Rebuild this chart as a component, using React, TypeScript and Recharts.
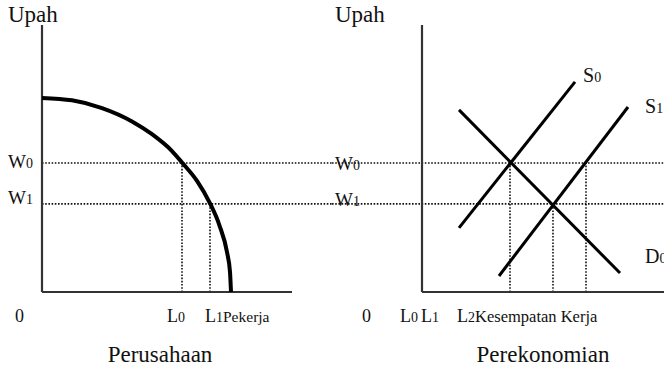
import React from "react";
import { ComposedChart, Line, XAxis, YAxis, ReferenceLine, Label } from "recharts";

// ---------- shared wage scale ----------
const wageDomain = [0, 100];
const wageTop = 100;
const wageW0 = 48.3;
const wageW1 = 33.0;

// ---------- left panel: Perusahaan ----------
const firmDomain = [0, 58];
const firmAxisEnd = 50;
const firmCurve = [
  { x: 0, y: 72.7 },
  { x: 6, y: 71.8 },
  { x: 12, y: 68.9 },
  { x: 18, y: 63.9 },
  { x: 22, y: 59.1 },
  { x: 26, y: 52.8 },
  { x: 28, y: 48.5 },
  { x: 31, y: 41.6 },
  { x: 33.6, y: 33.2 },
  { x: 35.5, y: 24.9 },
  { x: 37, y: 14.9 },
  { x: 37.6, y: 7.5 },
  { x: 37.8, y: 0 },
];
const firmL0 = 28;
const firmL1 = 33.6;
const firmXTicks = [0, firmL0, firmL1];
const firmXLabels = [
  { base: "0" },
  { base: "L", sub: "0" },
  { base: "L", sub: "1", tail: "Pekerja" },
];
const wageTicks = [wageW1, wageW0, wageTop];
const wageLabels = [
  { base: "W", sub: "1" },
  { base: "W", sub: "0" },
  { base: "Upah" },
];
const firmCaption = "Perusahaan";

// ---------- right panel: Perekonomian ----------
const ecoDomain = [0, 48.4];
const ecoL0 = 17.6;
const ecoL1 = 26.2;
const ecoL2 = 32.8;
const supplyS0 = [
  { x: 7.4, y: 24.0 },
  { x: 30.6, y: 78.7 },
];
const supplyS1 = [
  { x: 15.4, y: 6.0 },
  { x: 41.2, y: 69.3 },
];
const demandD0 = [
  { x: 7.4, y: 68.2 },
  { x: 39.6, y: 7.1 },
];
const ecoXTicks = [0, ecoL0, ecoL1, ecoL2];
const ecoXLabels = [
  { base: "0" },
  { base: "L", sub: "0" },
  { base: "L", sub: "1" },
  { base: "L", sub: "2", tail: "Kesempatan Kerja" },
];
const seriesNames = [
  { base: "S", sub: "0" },
  { base: "S", sub: "1" },
  { base: "D", sub: "0" },
];
const ecoCaption = "Perekonomian";

// ---------- styles ----------
const FONT = "'Liberation Serif', 'Times New Roman', Times, serif";
const INK = "#111";
const AXIS = "#333";
const DOT = "1.6 1.6";

type Lbl = { base: string; sub?: string; tail?: string };

function Txt({ l, x, y, anchor = "start", base, sub, tail }: any) {
  return (
    <text x={x} y={y} textAnchor={anchor} fontFamily={FONT} fill={INK} fontSize={base}>
      <tspan>{l.base}</tspan>
      {l.sub ? <tspan fontSize={sub}>{l.sub}</tspan> : null}
      {l.tail ? <tspan fontSize={tail}>{l.tail}</tspan> : null}
    </text>
  );
}

const makeTick =
  (ticks: number[], labels: Lbl[], offs: number[][], sizes: any) => (props: any) => {
    const { x, y, payload } = props;
    const i = ticks.indexOf(payload.value);
    if (i < 0) return <g />;
    const l = labels[i];
    const big = l.base === "Upah";
    return (
      <Txt
        l={l}
        x={x + offs[i][0]}
        y={y + offs[i][1]}
        base={big ? 23 : sizes.base}
        sub={sizes.sub}
        tail={sizes.tail}
      />
    );
  };

const firmXTick = makeTick(firmXTicks, firmXLabels, [[-27, 30], [-15, 30], [-5, 30]], { base: 18, sub: 14, tail: 15.5 });
const ecoXTick = makeTick(ecoXTicks, ecoXLabels, [[-60, 30], [-110, 30], [-132, 30], [-129, 30]], { base: 18, sub: 14, tail: 16.5 });
const firmYTick = makeTick(wageTicks, wageLabels, [[-34, 0], [-34, 5], [-34, -3]], { base: 19, sub: 14 });
const ecoYTick = makeTick(wageTicks, wageLabels, [[-87, 2], [-87, 7], [-87, -3]], { base: 19, sub: 14 });

const endLabel = (n: number, l: Lbl, dx: number, dy: number) => (p: any) => {
  if (p.index !== n - 1) return <g />;
  return <Txt l={l} x={p.x + dx} y={p.y + dy} base={20} sub={14} />;
};

const caption = (text: string, dx: number) => (p: any) => {
  const vb = p.viewBox || { x: 0, y: 0, width: 0 };
  return (
    <text x={vb.x + dx} y={vb.y + 70} textAnchor="middle" fontFamily={FONT} fill={INK} fontSize={23}>
      {text}
    </text>
  );
};

const W = 332;
const H = 368;
const margin = { top: 25, right: 0, bottom: 0, left: 0 };

export default function App() {
  return (
    <div style={{ position: "absolute", left: 0, top: 0, width: 664, height: 368, display: "flex", background: "#fff" }}>
      <ComposedChart width={W} height={H} margin={margin}>
        <XAxis
          xAxisId="x"
          dataKey="x"
          type="number"
          domain={firmDomain}
          ticks={firmXTicks}
          axisLine={false}
          tickLine={false}
          tickSize={0}
          tickMargin={0}
          height={76}
          tick={firmXTick}
          interval={0}
        >
          <Label content={caption(firmCaption, 118)} />
        </XAxis>
        <YAxis
          yAxisId="y"
          type="number"
          domain={wageDomain}
          ticks={wageTicks}
          axisLine={false}
          tickLine={false}
          tickSize={0}
          tickMargin={0}
          width={42}
          tick={firmYTick}
          interval={0}
        />
        <ReferenceLine xAxisId="x" yAxisId="y" segment={[{ x: 0, y: wageW0 }, { x: firmDomain[1], y: wageW0 }]} stroke={INK} strokeWidth={1.6} strokeDasharray={DOT} ifOverflow="visible" />
        <ReferenceLine xAxisId="x" yAxisId="y" segment={[{ x: 0, y: wageW1 }, { x: firmDomain[1], y: wageW1 }]} stroke={INK} strokeWidth={1.6} strokeDasharray={DOT} ifOverflow="visible" />
        <ReferenceLine xAxisId="x" yAxisId="y" segment={[{ x: firmL0, y: 0 }, { x: firmL0, y: wageW0 }]} stroke={INK} strokeWidth={1.6} strokeDasharray={DOT} ifOverflow="visible" />
        <ReferenceLine xAxisId="x" yAxisId="y" segment={[{ x: firmL1, y: 0 }, { x: firmL1, y: wageW1 }]} stroke={INK} strokeWidth={1.6} strokeDasharray={DOT} ifOverflow="visible" />
        <ReferenceLine xAxisId="x" yAxisId="y" segment={[{ x: 0, y: 0 }, { x: 0, y: wageTop }]} stroke={AXIS} strokeWidth={2.2} ifOverflow="visible" />
        <ReferenceLine xAxisId="x" yAxisId="y" segment={[{ x: 0, y: 0 }, { x: firmAxisEnd, y: 0 }]} stroke={AXIS} strokeWidth={2.2} ifOverflow="visible" />
        <Line xAxisId="x" yAxisId="y" data={firmCurve} dataKey="y" type="monotone" stroke="#000" strokeWidth={4} dot={false} activeDot={false} isAnimationActive={false} />
      </ComposedChart>

      <ComposedChart width={W} height={H} margin={margin}>
        <XAxis
          xAxisId="x"
          dataKey="x"
          type="number"
          domain={ecoDomain}
          ticks={ecoXTicks}
          axisLine={false}
          tickLine={false}
          tickSize={0}
          tickMargin={0}
          height={76}
          tick={ecoXTick}
          interval={0}
        >
          <Label content={caption(ecoCaption, 121)} />
        </XAxis>
        <YAxis
          yAxisId="y"
          type="number"
          domain={wageDomain}
          ticks={wageTicks}
          axisLine={false}
          tickLine={false}
          tickSize={0}
          tickMargin={0}
          width={90}
          tick={ecoYTick}
          interval={0}
        />
        <ReferenceLine xAxisId="x" yAxisId="y" segment={[{ x: -18, y: wageW0 }, { x: ecoDomain[1], y: wageW0 }]} stroke={INK} strokeWidth={1.6} strokeDasharray={DOT} ifOverflow="visible" />
        <ReferenceLine xAxisId="x" yAxisId="y" segment={[{ x: -18, y: wageW1 }, { x: ecoDomain[1], y: wageW1 }]} stroke={INK} strokeWidth={1.6} strokeDasharray={DOT} ifOverflow="visible" />
        <ReferenceLine xAxisId="x" yAxisId="y" segment={[{ x: ecoL0, y: 0 }, { x: ecoL0, y: wageW0 }]} stroke={INK} strokeWidth={1.6} strokeDasharray={DOT} ifOverflow="visible" />
        <ReferenceLine xAxisId="x" yAxisId="y" segment={[{ x: ecoL1, y: 0 }, { x: ecoL1, y: wageW1 }]} stroke={INK} strokeWidth={1.6} strokeDasharray={DOT} ifOverflow="visible" />
        <ReferenceLine xAxisId="x" yAxisId="y" segment={[{ x: ecoL2, y: 0 }, { x: ecoL2, y: wageW0 }]} stroke={INK} strokeWidth={1.6} strokeDasharray={DOT} ifOverflow="visible" />
        <ReferenceLine xAxisId="x" yAxisId="y" segment={[{ x: 0, y: 0 }, { x: 0, y: wageTop }]} stroke={AXIS} strokeWidth={2.2} ifOverflow="visible" />
        <ReferenceLine xAxisId="x" yAxisId="y" segment={[{ x: 0, y: 0 }, { x: ecoDomain[1], y: 0 }]} stroke={AXIS} strokeWidth={2.2} ifOverflow="visible" />
        <Line xAxisId="x" yAxisId="y" data={supplyS0} dataKey="y" type="linear" stroke="#000" strokeWidth={3} dot={false} activeDot={false} isAnimationActive={false} label={endLabel(supplyS0.length, seriesNames[0], 8, 0)} />
        <Line xAxisId="x" yAxisId="y" data={supplyS1} dataKey="y" type="linear" stroke="#000" strokeWidth={3} dot={false} activeDot={false} isAnimationActive={false} label={endLabel(supplyS1.length, seriesNames[1], 17, 6)} />
        <Line xAxisId="x" yAxisId="y" data={demandD0} dataKey="y" type="linear" stroke="#000" strokeWidth={3} dot={false} activeDot={false} isAnimationActive={false} label={endLabel(demandD0.length, seriesNames[2], 25, -10)} />
      </ComposedChart>
    </div>
  );
}
